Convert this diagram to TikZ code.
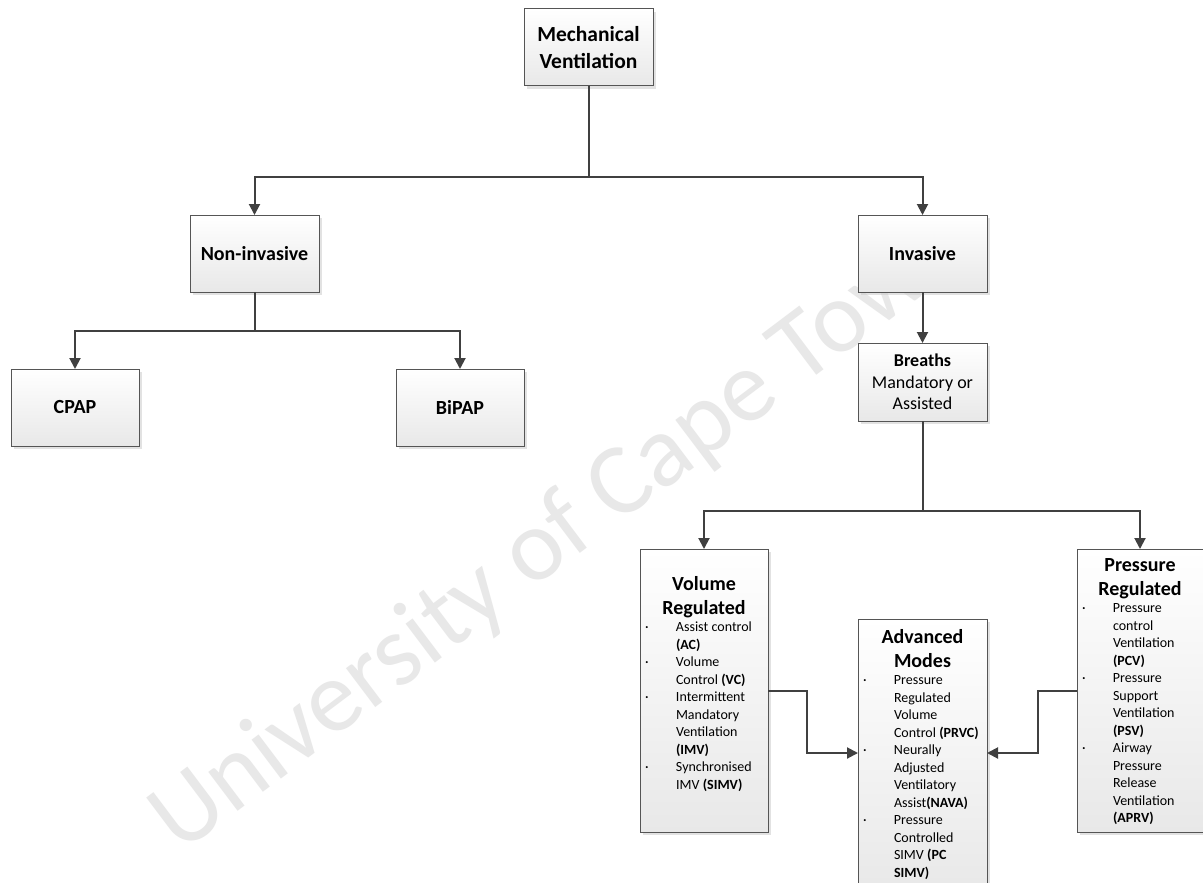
\documentclass[tikz,border=0pt]{standalone}
\usepackage{fontspec}
\setmainfont{Carlito}
\usetikzlibrary{arrows.meta,shadows}
\definecolor{linec}{HTML}{404040}
\definecolor{boxc}{HTML}{555555}
\definecolor{wmark}{HTML}{E8E8E8}
\newcommand\tfont{\fontsize{20}{24}\selectfont\bfseries}
\newcommand\mfont{\fontsize{21.5}{27}\selectfont\bfseries}
\newcommand\ifont{\fontsize{14}{17.5}\selectfont}
\newcommand\bfont{\fontsize{18}{21.5}\selectfont}
\newcommand\bul{\makebox[36pt][l]{\hspace{5pt}·}}
\newcommand\ind{\hspace*{36pt}}
\begin{document}
\begin{tikzpicture}[x=1pt,y=-1pt,
  box/.style={draw=boxc, line width=1pt, top color=white, bottom color=black!9,
    drop shadow={shadow xshift=3pt, shadow yshift=-3pt, fill=black!22, opacity=0.5},
    inner sep=0pt, outer sep=0pt, align=center},
  arr/.style={draw=linec, line width=2pt, -{Triangle[length=11pt,width=11pt]}},
  list/.style={anchor=north, text width=128pt, inner sep=0pt, align=left}
]
\useasboundingbox (0,0) rectangle (1203,883);
\fill[white] (0,0) rectangle (1203,883);
\clip (0,0) rectangle (1203,883);

% watermark
\node[anchor=base west, rotate=37, text=wmark, inner sep=0pt,
  font=\fontsize{102}{102}\selectfont] (wm) at (180,855) {University of Cape Town};

% boxes
\node[box, minimum width=129, minimum height=77, font=\mfont] (mv) at (588.5,47.5) {Mechanical\\Ventilation};
\node[box, minimum width=129, minimum height=77, font=\tfont] (ni) at (254.5,253.5) {Non-invasive};
\node[box, minimum width=129, minimum height=77, font=\tfont] (inv) at (922.5,253.5) {Invasive};
\node[box, minimum width=128, minimum height=77, font=\tfont] (cpap) at (75,407.5) {CPAP};
\node[box, minimum width=128, minimum height=77, font=\tfont] (bipap) at (460,407.5) {BiPAP};
\node[box, minimum width=129, minimum height=78, font=\bfont] (br) at (922.5,382) {\textbf{Breaths}\\Mandatory or\\Assisted};
\node[box, minimum width=128, minimum height=283] (vr) at (704,690.5) {};
\node[box, minimum width=129, minimum height=276] (am) at (922.5,757) {};
\node[box, minimum width=126, minimum height=283] (pr) at (1140,690.5) {};

\node[list] (vrt) at ([yshift=-27pt]vr.north) {%
{\centering\tfont Volume\\Regulated\par}
{\ifont\raggedright
\bul Assist control\\
\ind\textbf{(AC)}\\
\bul Volume\\
\ind Control \textbf{(VC)}\\
\bul Intermittent\\
\ind Mandatory\\
\ind Ventilation\\
\ind\textbf{(IMV)}\\
\bul Synchronised\\
\ind IMV \textbf{(SIMV)}\par}};

\node[list, text width=129pt] (amt) at ([yshift=-10pt]am.north) {%
{\centering\tfont Advanced\\Modes\par}
{\ifont\raggedright
\bul Pressure\\
\ind Regulated\\
\ind Volume\\
\ind Control \textbf{(PRVC)}\\
\bul Neurally\\
\ind Adjusted\\
\ind Ventilatory\\
\ind Assist\textbf{(NAVA)}\\
\bul Pressure\\
\ind Controlled\\
\ind SIMV \textbf{(PC}\\
\ind\textbf{SIMV)}\par}};

\node[list, text width=126pt] (prt) at ([yshift=-9pt]pr.north) {%
{\centering\tfont Pressure\\Regulated\par}
{\ifont\raggedright
\bul Pressure\\
\ind control\\
\ind Ventilation\\
\ind\textbf{(PCV)}\\
\bul Pressure\\
\ind Support\\
\ind Ventilation\\
\ind\textbf{(PSV)}\\
\bul Airway\\
\ind Pressure\\
\ind Release\\
\ind Ventilation\\
\ind\textbf{(APRV)}\par}};

% connectors
\draw[arr] (mv.south) -- ++(0,91) -| (ni.north);
\draw[arr] (mv.south) -- ++(0,91) -| (inv.north);
\draw[arr] (ni.south) -- ++(0,39) -| (cpap.north);
\draw[arr] (ni.south) -- ++(0,39) -| (bipap.north);
\draw[arr] (inv.south) -- (br.north);
\draw[arr] (br.south) -- ++(0,90) -| (vr.north);
\draw[arr] (br.south) -- ++(0,90) -| (pr.north);
\draw[arr] (vr.east) -- ++(39,0) |- ([yshift=4pt]am.west);
\draw[arr] (pr.west) -- ++(-39,0) |- ([yshift=4pt]am.east);
\end{tikzpicture}
\end{document}
